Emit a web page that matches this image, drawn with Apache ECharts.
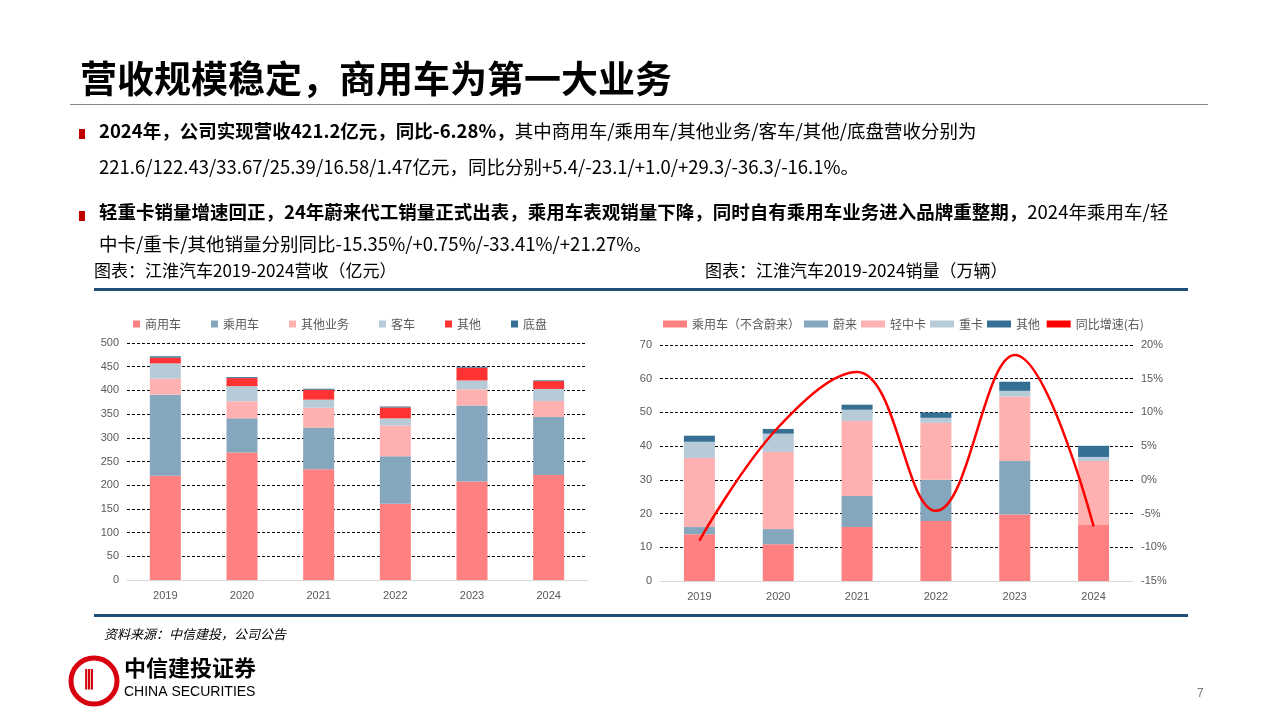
<!DOCTYPE html>
<html><head><meta charset="utf-8">
<script src="https://cdn.jsdelivr.net/npm/echarts@6/dist/echarts.min.js"></script>
<style>html,body{margin:0;padding:0;background:#fff}#c{width:1280px;height:720px}</style>
</head><body><div id="c"></div>
<script>
const years = ['2019','2020','2021','2022','2023','2024'];
// Revenue (亿元)
const revCommercial = [220, 269, 233.5, 161, 208, 221.6];
const revPassenger = [171, 72, 88, 100, 160, 122.43];
const revOtherBiz = [34, 36, 42, 65, 34, 33.67];
const revBus = [32, 32, 17, 15, 19, 25.39];
const revOther = [12, 17, 21, 23, 27, 16.58];
const revChassis = [3, 2, 2, 2, 2, 1.47];
// Sales (万辆)
const salPassenger = [13.9, 10.9, 16.0, 17.8, 19.7, 16.6];
const salNio = [2.1, 4.5, 9.2, 12.2, 15.9, 0];
const salLight = [20.5, 22.9, 22.3, 16.9, 19.1, 19.0];
const salHeavy = [4.8, 5.4, 3.3, 1.5, 1.7, 1.2];
const salOther = [1.8, 1.4, 1.5, 1.6, 2.7, 3.3];
const salYoY = [-9.0, 7.8, 16.0, -4.6, 18.5, -6.9];

const C1='#FF8080', C2='#84A7BE', C3='#FFB0B0', C4='#B7CAD8', C5='#FF3333', C6='#356F94';
const F='"Noto Sans CJK SC","Noto Sans",sans-serif';
const chart = echarts.init(document.getElementById('c'));
const gridLine = {show:true,lineStyle:{color:'#000',type:[3,2],width:1}};
const axLab = {color:'#595959',fontSize:11,fontFamily:'Arial, "Liberation Sans"'};
function bar(name,data,color,xi,yi,w){return {name,type:'bar',stack:'s'+xi,data,xAxisIndex:xi,yAxisIndex:yi,barWidth:w,itemStyle:{color}};}
const txt=(x,y,t,s,extra)=>({type:'text',left:x,top:y,style:Object.assign({text:t,font:s,fill:'#000'},extra||{})});
chart.setOption({
  animation:false,
  textStyle:{fontFamily:F},
  graphic:[
    txt(80,60,'营收规模稳定，商用车为第一大业务','bold 37px '+F),
    {type:'rect',shape:{x:70,y:104,width:1138,height:1},style:{fill:'#888'}},
    {type:'rect',shape:{x:79,y:129,width:6,height:10},style:{fill:'#C00000'}},
    {type:'rect',shape:{x:79,y:211,width:6,height:10},style:{fill:'#C00000'}},
    {type:'text',left:99,top:122,style:{rich:{b:{font:'bold 18.5px '+F,fill:'#000'},n:{font:'18.5px '+F,fill:'#000'}},text:'{b|2024年，公司实现营收421.2亿元，同比-6.28%，}{n|其中商用车/乘用车/其他业务/客车/其他/底盘营收分别为}'}},
    txt(99,158,'221.6/122.43/33.67/25.39/16.58/1.47亿元，同比分别+5.4/-23.1/+1.0/+29.3/-36.3/-16.1%。','18.5px '+F),
    {type:'text',left:99,top:203,style:{rich:{b:{font:'bold 18.5px '+F,fill:'#000'},n:{font:'18.5px '+F,fill:'#000'}},text:'{b|轻重卡销量增速回正，24年蔚来代工销量正式出表，乘用车表观销量下降，同时自有乘用车业务进入品牌重整期，}{n|2024年乘用车/轻}'}},
    txt(99,235,'中卡/重卡/其他销量分别同比-15.35%/+0.75%/-33.41%/+21.27%。','18.5px '+F),
    txt(94,262,'图表：江淮汽车2019-2024营收（亿元）','17px '+F),
    txt(705,262,'图表：江淮汽车2019-2024销量（万辆）','17px '+F),
    {type:'rect',shape:{x:94,y:288,width:1094,height:3},style:{fill:'#1F4E79'}},
    {type:'rect',shape:{x:94,y:614,width:1094,height:3},style:{fill:'#1F4E79'}},
    txt(104,628,'资料来源：中信建投，公司公告','italic 13px '+F),
    {type:'circle',shape:{cx:94,cy:681,r:23},style:{fill:'none',stroke:'#D7000F',lineWidth:5}},
    txt(84,668,'⫼','bold 22px '+F,{fill:'#D7000F'}),
    txt(124,657,'中信建投证券','bold 22px '+F),
    txt(124,685,'CHINA SECURITIES','14px "Liberation Sans"'),
    txt(1197,688,'7','12px "Liberation Sans"',{fill:'#777'})
  ],
  legend:[
    {left:128,top:313,itemWidth:7,itemHeight:7,itemGap:30,icon:'rect',textStyle:{fontSize:12,color:'#595959'},data:['商用车','乘用车','其他业务','客车','其他','底盘']},
    {left:658,top:313,itemWidth:24,itemHeight:7,itemGap:4,textStyle:{fontSize:12,color:'#595959'},data:[{name:'乘用车（不含蔚来）',icon:'rect'},{name:'蔚来',icon:'rect'},{name:'轻中卡',icon:'rect'},{name:'重卡',icon:'rect'},{name:'其他 ',icon:'rect'},{name:'同比增速(右)',icon:'rect'}]}
  ],
  grid:[{left:127,top:343,width:460,height:237},{left:660,top:345,width:473,height:236}],
  xAxis:[
    {type:'category',data:years,gridIndex:0,axisTick:{show:false},axisLine:{lineStyle:{color:'#D9D9D9'}},axisLabel:Object.assign({margin:10},axLab)},
    {type:'category',data:years,gridIndex:1,axisTick:{show:false},axisLine:{lineStyle:{color:'#D9D9D9'}},axisLabel:Object.assign({margin:10},axLab)}
  ],
  yAxis:[
    {type:'value',gridIndex:0,min:0,max:500,interval:50,splitLine:gridLine,axisLabel:axLab},
    {type:'value',gridIndex:1,min:0,max:70,interval:10,splitLine:gridLine,axisLabel:axLab},
    {type:'value',gridIndex:1,min:-15,max:20,interval:5,position:'right',splitLine:{show:false},axisLabel:Object.assign({formatter:'{value}%'},axLab)}
  ],
  series:[
    bar('商用车',revCommercial,C1,0,0,31),bar('乘用车',revPassenger,C2,0,0,31),bar('其他业务',revOtherBiz,C3,0,0,31),
    bar('客车',revBus,C4,0,0,31),bar('其他',revOther,C5,0,0,31),bar('底盘',revChassis,C6,0,0,31),
    bar('乘用车（不含蔚来）',salPassenger,C1,1,1,31),bar('蔚来',salNio,C2,1,1,31),bar('轻中卡',salLight,C3,1,1,31),
    bar('重卡',salHeavy,C4,1,1,31),bar('其他 ',salOther,C6,1,1,31),
    {name:'同比增速(右)',type:'line',xAxisIndex:1,yAxisIndex:2,data:salYoY,smooth:0.4,symbol:'none',lineStyle:{color:'#FF0000',width:2.5},itemStyle:{color:'#FF0000'}}
  ]
});
</script></body></html>
